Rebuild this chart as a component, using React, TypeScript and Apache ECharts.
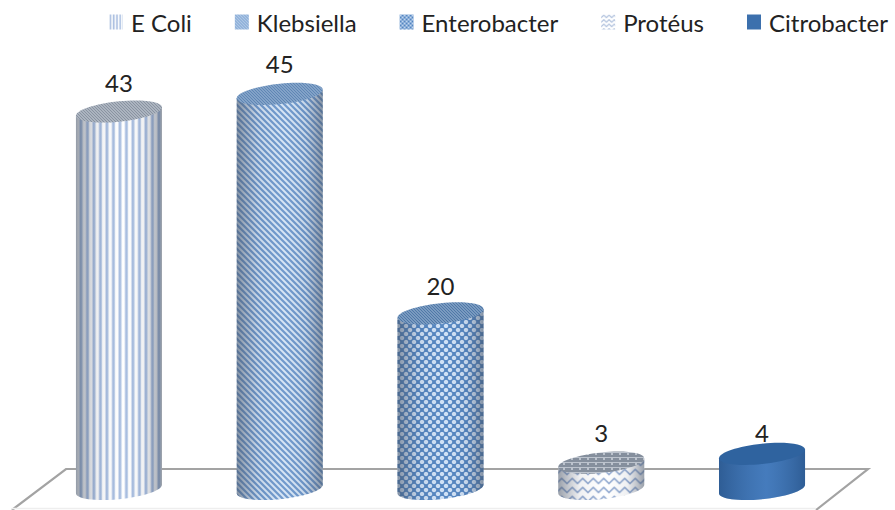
import React, { useEffect, useRef } from "react";
import * as echarts from "echarts";

const categories = ["E Coli", "Klebsiella", "Enterobacter", "Protéus", "Citrobacter"];
const values = [43, 45, 20, 3, 4];
const labelLift = [29, 30, 28, 30, 21];
const FONT = "Lato, 'Open Sans', sans-serif";
const TILT_DEG = 6;
const SS = 4;

type Kind = "vertical" | "diagonal" | "dots" | "zigzag" | "hatch" | "weave";

function makePattern(kind: Kind, k = 1, ink = "#7f9fd0", paper = "#ffffff") {
  const sizes: Record<Kind, [number, number]> = {
    vertical: [6.5, 6.5],
    diagonal: [6, 6],
    dots: [8, 8],
    zigzag: [10.5, 9],
    hatch: [3, 3],
    weave: [8, 5],
  };
  const [w, h] = sizes[kind];
  const c = document.createElement("canvas");
  c.width = Math.round(w * SS);
  c.height = Math.round(h * SS);
  const g = c.getContext("2d")!;
  g.scale(c.width / w, c.height / h);
  g.fillStyle = paper;
  g.fillRect(0, 0, w, h);
  g.fillStyle = ink;
  g.strokeStyle = ink;
  const diag = (lw: number) => {
    g.lineWidth = lw;
    for (let i = -w; i <= w; i += w) {
      g.beginPath();
      g.moveTo(i - w, -h);
      g.lineTo(i + 2 * w, 2 * h);
      g.stroke();
    }
  };
  if (kind === "vertical") {
    g.fillRect(1.5, 0, 2.8, h);
  } else if (kind === "hatch") {
    diag(1.1);
  } else if (kind === "diagonal") {
    diag(2.2);
  } else if (kind === "dots") {
    g.fillStyle = "#4f82bf";
    g.fillRect(0, 0, w, h);
    const dot = (x: number, y: number) => {
      g.fillStyle = "#cfe1f6";
      g.beginPath();
      g.arc(x, y, 2.2, 0, Math.PI * 2);
      g.fill();
    };
    [[2, 2], [6, 6], [-2, 6], [10, 2]].forEach(([x, y]) => dot(x, y));
  } else if (kind === "zigzag") {
    g.lineWidth = 1.6;
    g.beginPath();
    g.moveTo(-1, 7.6);
    g.lineTo(0, 6.6);
    g.lineTo(5.25, 1.4);
    g.lineTo(10.5, 6.6);
    g.lineTo(11.5, 7.6);
    g.stroke();
  } else if (kind === "weave") {
    g.fillRect(0, 0, w, 2);
    g.fillRect(0, 3, 3, 2);
    g.fillRect(5, 3, 3, 2);
  }
  const s = k / SS;
  return { image: c, repeat: "repeat" as const, scaleX: s, scaleY: s };
}

const solid = "#3c70ad";
const bodyFill = (i: number, k = 1): any =>
  [
    () => makePattern("vertical", k, "#a3bade"),
    () => makePattern("diagonal", k, "#6a95ca", "#d5e4f5"),
    () => makePattern("dots", k),
    () => makePattern("zigzag", k, "#90a8d0"),
    () => solid,
  ][i]();

const topFill = (i: number): any =>
  [
    () => makePattern("hatch", 1, "#87919f", "#bcc4ce"),
    () => makePattern("hatch", 1, "#5d84b3", "#93b0d1"),
    () => makePattern("hatch", 1, "#4c76a6", "#8eabcc"),
    () => makePattern("weave", 1, "#858f9d", "#bcc3cd"),
    () => "#2f639f",
  ][i]();

const shade = (a: number): any => ({
  type: "linear",
  x: 0,
  y: 0,
  x2: 1,
  y2: 0,
  colorStops: [
    { offset: 0, color: `rgba(70,82,100,${a})` },
    { offset: 0.25, color: "rgba(90,100,120,0.1)" },
    { offset: 0.55, color: "rgba(255,255,255,0.05)" },
    { offset: 0.8, color: "rgba(90,100,120,0.1)" },
    { offset: 1, color: `rgba(70,82,100,${a})` },
  ],
});

const solidShade: any = {
  type: "linear",
  x: 0,
  y: 0,
  x2: 1,
  y2: 0,
  colorStops: [
    { offset: 0, color: "rgba(30,70,120,0.45)" },
    { offset: 0.55, color: "rgba(90,150,225,0.3)" },
    { offset: 1, color: "rgba(30,70,120,0.45)" },
  ],
};

// a piece of a tilted ellipse as cubic curves, from parameter u1 to u2
function ellipseCurves(cx: number, cy: number, rx: number, ry: number, t: number, u1: number, u2: number) {
  const cos = Math.cos(t);
  const sin = Math.sin(t);
  const P = (u: number) => [
    cx + rx * Math.cos(u) * cos + ry * Math.sin(u) * sin,
    cy - rx * Math.cos(u) * sin + ry * Math.sin(u) * cos,
  ];
  const D = (u: number) => [
    -rx * Math.sin(u) * cos + ry * Math.cos(u) * sin,
    rx * Math.sin(u) * sin + ry * Math.cos(u) * cos,
  ];
  const steps = 4;
  const du = (u2 - u1) / steps;
  const al = (4 / 3) * Math.tan(du / 4);
  let out = "";
  for (let n = 0; n < steps; n++) {
    const a = u1 + n * du;
    const b = a + du;
    const pa = P(a);
    const pb = P(b);
    const da = D(a);
    const db = D(b);
    out += `C${pa[0] + al * da[0]} ${pa[1] + al * da[1]} ${pb[0] - al * db[0]} ${pb[1] - al * db[1]} ${pb[0]} ${pb[1]}`;
  }
  return { start: P(u1), end: P(u2), curves: out };
}

export default function App() {
  const ref = useRef<HTMLDivElement>(null);
  useEffect(() => {
    document.body.style.margin = "0";
    const chart = echarts.init(ref.current!, null, { renderer: "svg" });

    const series = categories.map((name, i) => {
      const data = [[i, values[i]]];
      return {
        name,
        type: "custom",
        coordinateSystem: "cartesian2d",
        itemStyle: { color: i === 4 ? solid : "#7f9fd0" },
        encode: { x: 0, y: 1 },
        data,
        clip: false,
        renderItem: (_p: any, api: any) => {
          const [cx, topY] = api.coord([api.value(0), api.value(1)]);
          const [, baseY] = api.coord([api.value(0), 0]);
          const rx = api.size([1, 0])[0] * 0.269;
          const ry = rx * 0.235;
          const t = (TILT_DEG * Math.PI) / 180;
          // parameter of the right-hand tangent point, where the side meets the ellipse
          const u0 = Math.atan2(ry * Math.sin(t), rx * Math.cos(t));
          const bottom = ellipseCurves(cx, baseY, rx, ry, t, u0 + Math.PI, u0);
          const topEdge = ellipseCurves(cx, topY, rx, ry, t, u0 + Math.PI, u0 + 3 * Math.PI);
          const topRight = ellipseCurves(cx, topY, rx, ry, t, u0, u0 + Math.PI);
          const d =
            `M${topRight.end[0]} ${topRight.end[1]}L${bottom.start[0]} ${bottom.start[1]}` +
            bottom.curves +
            `L${topRight.start[0]} ${topRight.start[1]}Z`;
          const top = `M${topEdge.start[0]} ${topEdge.start[1]}${topEdge.curves}Z`;
          return {
            type: "group",
            children: [
              { type: "path", shape: { pathData: d }, style: { fill: bodyFill(i) } },
              { type: "path", shape: { pathData: d }, style: { fill: i === 4 ? solidShade : shade(0.55) } },
              { type: "path", shape: { pathData: top }, style: { fill: topFill(i) } },
              {
                type: "text",
                style: {
                  x: cx,
                  y: topY - labelLift[i],
                  text: String(values[i]),
                  fill: "#222222",
                  font: `24px ${FONT}`,
                  align: "center",
                  verticalAlign: "middle",
                },
              },
            ],
          };
        },
      };
    });

    chart.setOption({
      animation: false,
      backgroundColor: "#ffffff",
      grid: { left: 38.6, right: 52.6, top: 50, bottom: 21 },
      xAxis: { type: "category", data: categories, show: false },
      yAxis: { type: "value", min: 0, max: 50, show: false },
      legend: {
        left: 109,
        top: 10,
        padding: 0,
        itemGap: 43,
        itemWidth: 14,
        itemHeight: 15,
        textStyle: { fontFamily: FONT, fontSize: 24, color: "#222222", padding: [0, 0, 0, 3] },
        data: categories.map((name, i) => ({
          name,
          icon: "rect",
          itemStyle: { color: bodyFill(i, 0.5) },
        })),
      },
      graphic: [
        {
          type: "polyline",
          z: -1,
          shape: { points: [[12, 510], [66, 469], [868, 469], [816, 510]] },
          style: { stroke: "#a3a3a3", lineWidth: 2.2, fill: "none" },
        },
        {
          type: "line",
          z: -1,
          shape: { x1: 12, y1: 508.5, x2: 816, y2: 508.5 },
          style: { stroke: "#eeeeee", lineWidth: 1.5 },
        },
      ],
      series,
    } as any);
    return () => chart.dispose();
  }, []);
  return <div ref={ref} style={{ width: 895, height: 510 }} />;
}
